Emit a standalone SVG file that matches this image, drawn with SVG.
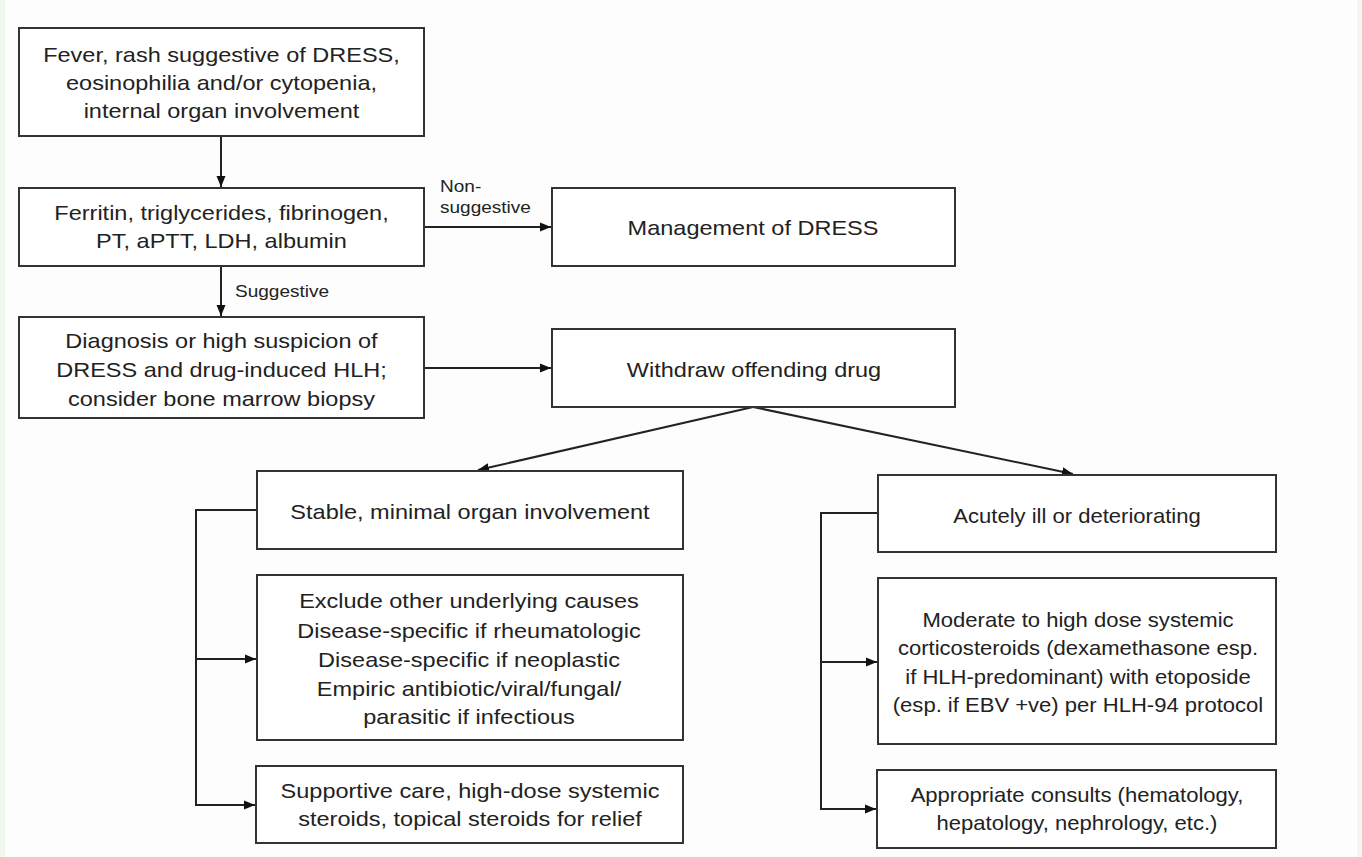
<svg xmlns="http://www.w3.org/2000/svg" width="1362" height="857" viewBox="0 0 1362 857">
<style>
.box{fill:#fff;stroke:#333;stroke-width:2}
.t{font-family:"Liberation Sans",Arial,sans-serif;font-size:21px;fill:#222;text-anchor:middle}
.l{font-family:"Liberation Sans",Arial,sans-serif;font-size:17px;fill:#222;text-anchor:start}
.c{fill:none;stroke:#222;stroke-width:2}
</style>
<defs>
<marker id="ah" markerUnits="userSpaceOnUse" markerWidth="12" markerHeight="10" refX="11" refY="5" orient="auto">
<path d="M0,0.5 L11,5 L0,9.5 z" fill="#111"/>
</marker>
</defs>
<rect x="0" y="0" width="1362" height="857" fill="#fdfdfd"/>
<rect x="0" y="0" width="5" height="857" fill="#f2f8f0"/>
<rect x="1357" y="0" width="5" height="857" fill="#f2f8f0"/>

<g id="connectors">
<path class="c" d="M221,136 V187" marker-end="url(#ah)"/>
<path class="c" d="M221,266 V316" marker-end="url(#ah)"/>
<path class="c" d="M424,227 H551" marker-end="url(#ah)"/>
<path class="c" d="M424,368 H551" marker-end="url(#ah)"/>
<path class="c" d="M753,407 L478,470" marker-end="url(#ah)"/>
<path class="c" d="M753,407 L1073,474" marker-end="url(#ah)"/>
<path class="c" d="M257,510 H196 V805 H255" marker-end="url(#ah)"/>
<path class="c" d="M196,659 H256" marker-end="url(#ah)"/>
<path class="c" d="M878,513 H821 V809 H876" marker-end="url(#ah)"/>
<path class="c" d="M821,662 H877" marker-end="url(#ah)"/>
<text class="l" transform="translate(440 0) scale(1.12 1)" x="0" y="192">Non-</text>
<text class="l" transform="translate(440 0) scale(1.12 1)" x="0" y="213">suggestive</text>
<text class="l" transform="translate(235 0) scale(1.12 1)" x="0" y="297">Suggestive</text>
</g>

<g id="n1">
<rect class="box" x="19" y="28" width="405" height="108"/>
<text class="t" transform="translate(221.5 0) scale(1.12 1)"><tspan x="0" y="62">Fever, rash suggestive of DRESS,</tspan><tspan x="0" y="90">eosinophilia and/or cytopenia,</tspan><tspan x="0" y="118">internal organ involvement</tspan></text>
</g>
<g id="n2">
<rect class="box" x="19" y="188" width="405" height="78"/>
<text class="t" transform="translate(221.5 0) scale(1.12 1)"><tspan x="0" y="220">Ferritin, triglycerides, fibrinogen,</tspan><tspan x="0" y="248">PT, aPTT, LDH, albumin</tspan></text>
</g>
<g id="n3">
<rect class="box" x="19" y="317" width="405" height="101"/>
<text class="t" transform="translate(221.5 0) scale(1.12 1)"><tspan x="0" y="348">Diagnosis or high suspicion of</tspan><tspan x="0" y="377">DRESS and drug-induced HLH;</tspan><tspan x="0" y="406">consider bone marrow biopsy</tspan></text>
</g>
<g id="n4">
<rect class="box" x="552" y="188" width="403" height="78"/>
<text class="t" transform="translate(753 0) scale(1.12 1)" x="0" y="235">Management of DRESS</text>
</g>
<g id="n5">
<rect class="box" x="552" y="329" width="403" height="78"/>
<text class="t" transform="translate(754 0) scale(1.12 1)" x="0" y="377">Withdraw offending drug</text>
</g>
<g id="n6">
<rect class="box" x="257" y="471" width="426" height="78"/>
<text class="t" transform="translate(470 0) scale(1.12 1)" x="0" y="519">Stable, minimal organ involvement</text>
</g>
<g id="n7">
<rect class="box" x="257" y="575" width="426" height="165"/>
<text class="t" transform="translate(469 0) scale(1.12 1)"><tspan x="0" y="608">Exclude other underlying causes</tspan><tspan x="0" y="638">Disease-specific if rheumatologic</tspan><tspan x="0" y="667">Disease-specific if neoplastic</tspan><tspan x="0" y="696">Empiric antibiotic/viral/fungal/</tspan><tspan x="0" y="724">parasitic if infectious</tspan></text>
</g>
<g id="n8">
<rect class="box" x="256" y="766" width="427" height="77"/>
<text class="t" transform="translate(470 0) scale(1.12 1)"><tspan x="0" y="798">Supportive care, high-dose systemic</tspan><tspan x="0" y="826">steroids, topical steroids for relief</tspan></text>
</g>
<g id="n9">
<rect class="box" x="878" y="475" width="398" height="77"/>
<text class="t" transform="translate(1077 0) scale(1.05 1)" x="0" y="523">Acutely ill or deteriorating</text>
</g>
<g id="n10">
<rect class="box" x="878" y="578" width="398" height="166"/>
<text class="t" transform="translate(1078 0) scale(1.05 1)"><tspan x="0" y="627">Moderate to high dose systemic</tspan><tspan x="0" y="655">corticosteroids (dexamethasone esp.</tspan><tspan x="0" y="684">if HLH-predominant) with etoposide</tspan><tspan x="0" y="712">(esp. if EBV +ve) per HLH-94 protocol</tspan></text>
</g>
<g id="n11">
<rect class="box" x="877" y="770" width="399" height="78"/>
<text class="t" transform="translate(1077 0) scale(1.05 1)"><tspan x="0" y="802">Appropriate consults (hematology,</tspan><tspan x="0" y="830">hepatology, nephrology, etc.)</tspan></text>
</g>
</svg>
